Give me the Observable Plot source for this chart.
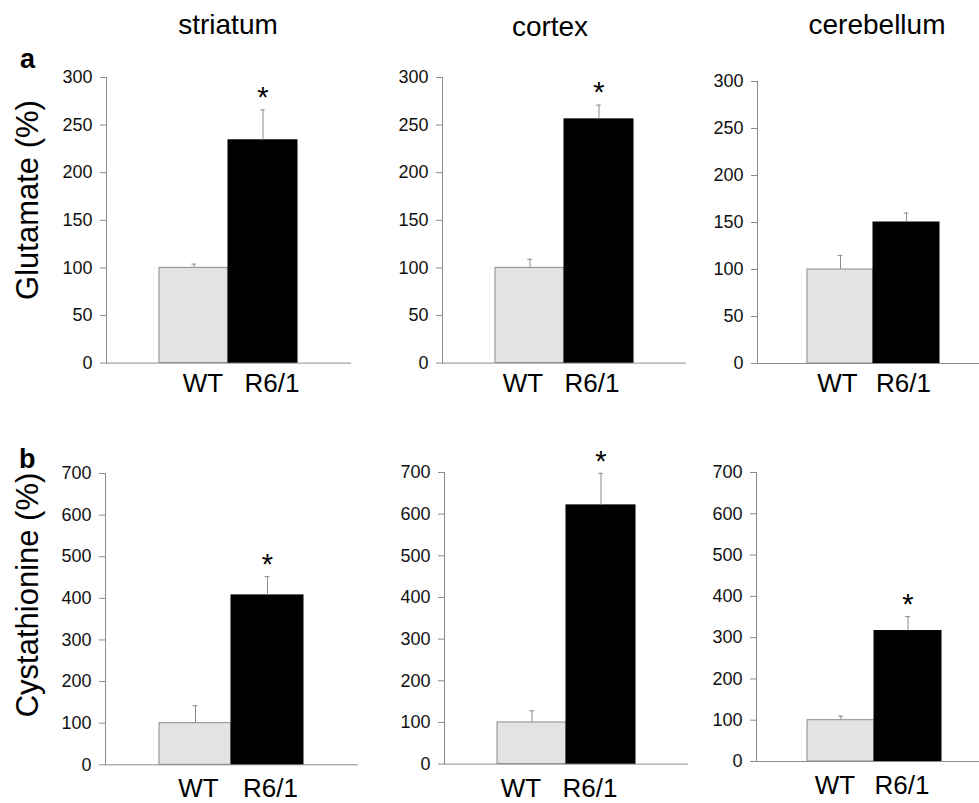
<!DOCTYPE html>
<html><head><meta charset="utf-8">
<script src="https://cdn.jsdelivr.net/npm/d3@7"></script>
<script src="https://cdn.jsdelivr.net/npm/@observablehq/plot@0.6"></script>
<style>
html,body{margin:0;padding:0;background:#fff;overflow:hidden;}
#chart{position:relative;width:979px;height:803px;overflow:hidden;font-family:"Liberation Sans",Arial,sans-serif;background:#fff;}
#chart > svg{position:absolute;}
</style></head><body><div id="chart"></div>
<script>
// ---- data ----
const regions = ["striatum", "cortex", "cerebellum"];
const groups = ["WT", "R6/1"];
const panelLetters = ["a", "b"];
const yLabels = ["Glutamate (%)", "Cystathionine (%)"];

const glutamateWT = [100, 100, 100];
const glutamateWTErr = [4, 9, 15];
const glutamateR6 = [234, 256, 150];
const glutamateR6Err = [32, 15, 10];
const glutamateSignificant = [true, true, false];

const cystathionineWT = [100, 100, 100];
const cystathionineWTErr = [42, 28, 10];
const cystathionineR6 = [407, 621, 316];
const cystathionineR6Err = [45, 77, 35];
const cystathionineSignificant = [true, true, true];

const glutamateTicks = [0, 50, 100, 150, 200, 250, 300];
const cystathionineTicks = [0, 100, 200, 300, 400, 500, 600, 700];

// ---- layout ----
const FONT = "'Liberation Sans', Arial, Helvetica, sans-serif";
const GRAY = "#8c8c8c";
const rows = [
  {wt: glutamateWT, wtErr: glutamateWTErr, r6: glutamateR6, r6Err: glutamateR6Err,
   sig: glutamateSignificant, ticks: glutamateTicks, labelPad: 10,
   panels: [
     {axisX: 106, top: 76.7, bottom: 362.3, width: 244, dx: 9},
     {axisX: 442.3, top: 76.7, bottom: 362.3, width: 243, dx: -7},
     {axisX: 757.3, top: 80.7, bottom: 362.7, width: 232, dx: -3}
   ]},
  {wt: cystathionineWT, wtErr: cystathionineWTErr, r6: cystathionineR6, r6Err: cystathionineR6Err,
   sig: cystathionineSignificant, ticks: cystathionineTicks, labelPad: 14,
   panels: [
     {axisX: 105, top: 473, bottom: 764.3, width: 252, dx: 3},
     {axisX: 444, top: 471.7, bottom: 763.3, width: 243, dx: -11},
     {axisX: 756, top: 472, bottom: 761, width: 235, dx: -6}
   ]}
];

const chart = document.getElementById("chart");
const ML = 70, MR = 10, MT = 40, MB = 50;

rows.forEach((row) => {
  const yMax = row.ticks[row.ticks.length - 1];
  row.panels.forEach((p, i) => {
    const data = groups.map((g, j) => ({
      group: g,
      value: j ? row.r6[i] : row.wt[i],
      err: j ? row.r6Err[i] : row.wtErr[i]
    }));
    const sigData = row.sig[i] ? data.filter(d => d.group === "R6/1") : [];
    const step = p.width / 3.5;
    const capInset = (step - 5) / 2;
    const plot = Plot.plot({
      width: ML + p.width + MR,
      height: MT + (p.bottom - p.top) + MB,
      marginLeft: ML, marginRight: MR, marginTop: MT, marginBottom: MB,
      style: {fontFamily: FONT, background: "transparent", overflow: "visible", color: "#000"},
      x: {domain: groups, paddingInner: 0, paddingOuter: 0.75, axis: null},
      y: {domain: [0, yMax], axis: null},
      marks: [
        Plot.barY(data.filter(d => d.group === "WT"), {x: "group", y: "value", fill: "#e3e3e3", stroke: GRAY, strokeWidth: 1, inset: 0}),
        Plot.barY(data.filter(d => d.group === "R6/1"), {x: "group", y: "value", fill: "#000", stroke: "#000", strokeWidth: 1, inset: 0}),
        Plot.ruleX(data, {x: "group", y1: "value", y2: d => d.value + d.err, stroke: GRAY, strokeWidth: 1}),
        Plot.tickY(data, {x: "group", y: d => d.value + d.err, stroke: GRAY, strokeWidth: 1, insetLeft: capInset, insetRight: capInset}),
        Plot.text(sigData, {x: "group", y: d => d.value + d.err, text: () => "*", fontSize: 29, dy: -12, fill: "#000"}),
        Plot.axisY({ticks: row.ticks, tickSize: 6, tickPadding: 8, fontSize: 18, stroke: GRAY, fill: "#111", label: null, tickFormat: d => String(d)}),
        Plot.axisX({tickSize: 0, tickPadding: row.labelPad, fontSize: 26, fill: "#000", label: null, dx: p.dx}),
        Plot.frame({anchor: "left", stroke: GRAY, strokeWidth: 1}),
        Plot.frame({anchor: "bottom", stroke: GRAY, strokeWidth: 1})
      ]
    });
    plot.style.left = (p.axisX - ML) + "px";
    plot.style.top = (p.top - MT) + "px";
    chart.appendChild(plot);
  });
});

// ---- titles, panel letters, y labels ----
const overlay = d3.select(chart).append("svg")
  .attr("width", 979).attr("height", 803)
  .style("left", "0px").style("top", "0px")
  .style("pointer-events", "none")
  .style("font-family", FONT);

const titlePos = [{x: 228, y: 34}, {x: 550, y: 36}, {x: 877, y: 34}];
regions.forEach((r, i) => {
  overlay.append("text").attr("x", titlePos[i].x).attr("y", titlePos[i].y)
    .attr("text-anchor", "middle").attr("font-size", 28).attr("fill", "#000").text(r);
});
const letterPos = [{x: 20, y: 68}, {x: 19, y: 468}];
panelLetters.forEach((l, i) => {
  overlay.append("text").attr("x", letterPos[i].x).attr("y", letterPos[i].y)
    .attr("font-size", 27).attr("font-weight", "bold").attr("fill", "#000").text(l);
});
const yLabelPos = [{x: 38, y: 200}, {x: 38, y: 595}];
yLabels.forEach((t, i) => {
  overlay.append("text")
    .attr("transform", `translate(${yLabelPos[i].x},${yLabelPos[i].y}) rotate(-90)`)
    .attr("text-anchor", "middle").attr("font-size", 31).attr("fill", "#000").text(t);
});
</script>
</body></html>
